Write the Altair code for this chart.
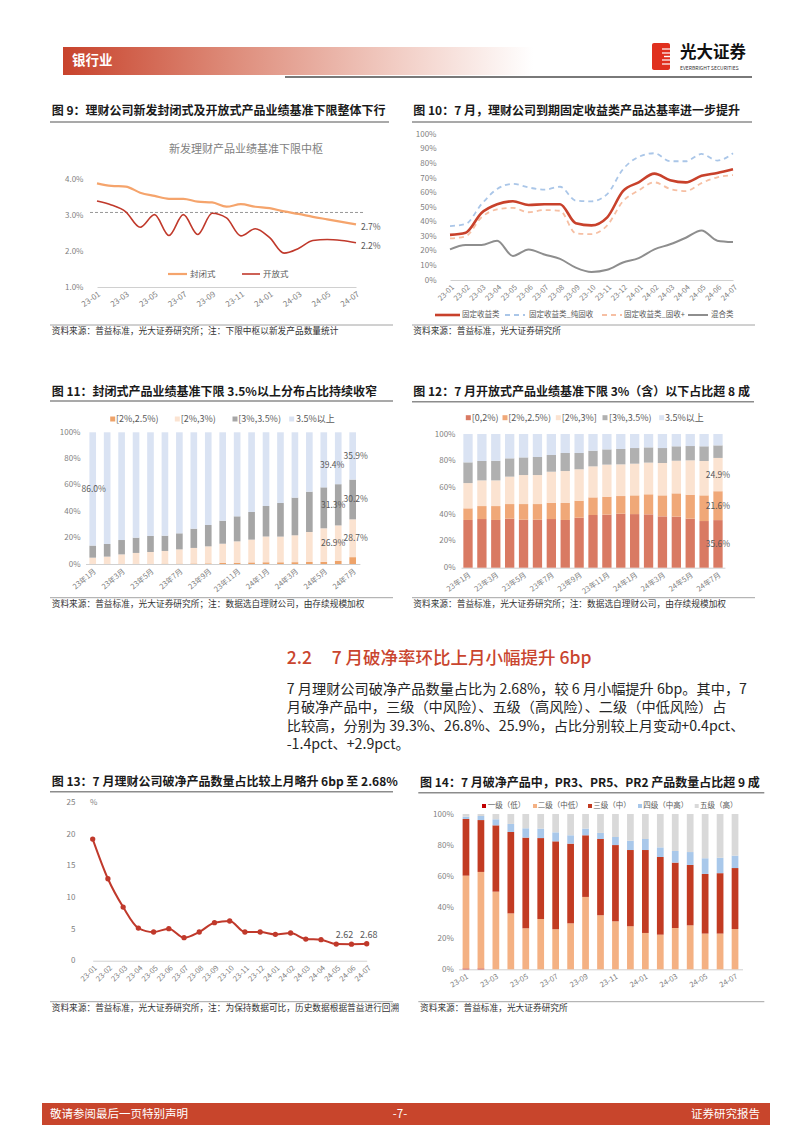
import altair as alt
import pandas as pd

FONT = "Noto Sans CJK SC"
LBL = "#7f7f7f"
DARK = "#1a1a1a"

# ---------------- data ----------------
months = ["23-01", "23-02", "23-03", "23-04", "23-05", "23-06", "23-07", "23-08", "23-09", "23-10",
          "23-11", "23-12", "24-01", "24-02", "24-03", "24-04", "24-05", "24-06", "24-07"]
months_cn = ["23年1月", "23年2月", "23年3月", "23年4月", "23年5月", "23年6月", "23年7月", "23年8月",
             "23年9月", "23年10月", "23年11月", "23年12月", "24年1月", "24年2月", "24年3月", "24年4月",
             "24年5月", "24年6月", "24年7月"]

# Fig 9
f9_names = ["封闭式", "开放式"]
f9_closed = [3.88, 3.81, 3.79, 3.62, 3.53, 3.45, 3.45, 3.37, 3.35, 3.23, 3.30, 3.23, 3.19, 3.10, 3.03, 2.95, 2.88, 2.81, 2.74]
f9_open = [3.39, 3.28, 3.09, 2.66, 3.01, 2.43, 3.01, 2.46, 3.05, 2.92, 2.42, 2.62, 2.37, 1.94, 2.07, 2.29, 2.32, 2.29, 2.23]
f9_center = [3.07]
f9_end_labels = ["2.7%", "2.2%"]
f9_y_ticks = [1, 2, 3, 4]

# Fig 10
f10_names = ["固定收益类", "固定收益类_纯固收", "固定收益类_固收+", "混合类"]
f10_fixed = [31, 32.5, 46, 52, 54, 51.5, 52, 52, 39, 37.5, 43, 61, 67, 73, 68.5, 67, 71.5, 73.5, 76]
f10_pure = [37, 38.5, 52, 62.5, 66, 63.5, 62, 64, 54.5, 54, 59, 76, 84.5, 87, 81.5, 81.5, 86.5, 82, 87]
f10_plus = [28.5, 30, 43, 48.5, 49.5, 46.5, 48, 47.5, 32, 31.5, 37.5, 54, 61.5, 67, 62.5, 61, 66.5, 70.5, 72]
f10_mixed = [21, 24, 24, 27, 16.5, 21, 17.5, 14.5, 8.5, 5.5, 7, 12, 15, 21, 24.5, 29, 34, 27, 26]

# Fig 11 (segments, bottom to top)
f11_names = ["[2%,2.5%)", "[2%,3%)", "[3%,3.5%)", "3.5%以上"]
f11_a = [0.2, 0.2, 0.2, 0.2, 0.2, 0.3, 0.3, 0.4, 0.5, 0.8, 1.0, 1.2, 1.3, 1.3, 1.4, 1.5, 1.6, 2.4, 5.2]
f11_b = [4.6, 5.4, 7.1, 8.2, 8.9, 9.6, 10.8, 11.8, 12.9, 14.6, 16.2, 17.3, 19.5, 19.5, 20.4, 22.8, 25.5, 26.9, 28.7]
f11_c = [9.2, 9.6, 10.9, 11.6, 12.2, 11.6, 12.2, 14.6, 16.2, 17.5, 19.0, 21.0, 23.2, 25.5, 28.6, 30.6, 31.1, 31.3, 30.2]
f11_d = [86.0, 84.8, 81.8, 80.0, 78.7, 78.5, 76.7, 73.2, 70.4, 67.1, 63.8, 60.5, 56.0, 53.7, 49.6, 45.1, 41.8, 39.4, 35.9]

# Fig 12 (segments, bottom to top)
f12_names = ["[0,2%)", "[2%,2.5%)", "[2%,3%]", "[3%,3.5%)", "3.5%以上"]
f12_a = [35.7, 36.4, 35.7, 36.7, 35.9, 35.9, 36.4, 35.7, 37.4, 39.4, 39.7, 40.4, 40.1, 39.9, 38.4, 38.2, 36.7, 34.9, 35.6]
f12_b = [8.7, 9.7, 10.4, 10.9, 11.7, 11.7, 12.2, 12.7, 12.7, 13.2, 13.4, 13.2, 14.0, 15.0, 15.7, 17.4, 17.9, 19.2, 21.6]
f12_c = [18.9, 19.2, 19.2, 20.5, 21.7, 21.7, 23.2, 23.9, 23.5, 23.2, 24.0, 23.7, 23.7, 23.7, 24.2, 24.4, 25.7, 25.7, 24.9]
f12_d = [15.5, 14.5, 14.7, 13.7, 13.2, 13.5, 12.5, 13.5, 12.2, 11.7, 11.4, 11.5, 11.7, 11.4, 11.2, 10.8, 10.7, 11.0, 9.4]
f12_e = [21.2, 20.2, 20.0, 18.2, 17.5, 17.2, 15.7, 14.2, 14.2, 12.5, 11.5, 11.2, 10.5, 10.0, 10.5, 9.2, 9.0, 9.2, 8.5]

# Fig 13
f13_rate = [19.25, 12.97, 8.49, 5.17, 4.54, 5.06, 3.64, 4.54, 6.01, 6.28, 4.54, 4.54, 4.17, 4.38, 3.43, 3.32, 2.63, 2.62, 2.68]
f13_y_ticks = [0, 5, 10, 15, 20, 25]

# Fig 14 (segments, bottom to top)
f14_names = ["一级（低）", "二级（中低）", "三级（中）", "四级（中高）", "五级（高）"]
f14_l1 = [0.5, 0.5, 0, 0, 0, 0, 0, 0, 0, 0, 0, 0, 0, 0, 0, 0, 0, 0, 0]
f14_l2 = [59.8, 62.2, 50.0, 36.0, 26.4, 32.4, 25.8, 29.6, 46.6, 34.8, 30.9, 27.7, 23.4, 22.3, 26.6, 28.3, 23.0, 23.0, 25.9]
f14_l3 = [36.5, 33.4, 42.7, 52.4, 58.4, 52.1, 56.6, 51.3, 39.7, 49.1, 49.1, 49.1, 53.4, 50.0, 42.1, 38.9, 38.4, 38.9, 39.3]
f14_l4 = [1.5, 2.6, 3.9, 5.2, 6.0, 6.1, 5.8, 5.4, 4.3, 3.9, 5.2, 6.0, 7.1, 6.2, 7.5, 8.3, 10.1, 9.9, 8.0]
f14_l5 = [1.7, 1.3, 3.4, 6.4, 9.2, 9.4, 11.8, 13.7, 9.4, 12.2, 14.8, 17.2, 16.1, 21.5, 23.8, 24.5, 28.5, 28.2, 26.8]

pct_ticks = [0, 10, 20, 30, 40, 50, 60, 70, 80, 90, 100]
pct_ticks20 = [0, 20, 40, 60, 80, 100]

# ---------------- helpers ----------------
ONE = pd.DataFrame({"k": [0]})


def text(s, x, y, size=9.0, color="#262626", align="left", weight="normal", baseline="middle"):
    return alt.Chart(ONE).mark_text(
        text=s, align=align, baseline=baseline, fontSize=size, color=color,
        fontWeight=weight, font=FONT
    ).encode(x=alt.value(x), y=alt.value(y))


def hrule(x1, x2, y, color="#7f7f7f", width=1.0, dash=None):
    kw = dict(color=color, strokeWidth=width)
    if dash:
        kw["strokeDash"] = dash
    return alt.Chart(ONE).mark_rule(**kw).encode(x=alt.value(x1), x2=alt.value(x2), y=alt.value(y))


def box(x1, x2, y1, y2, color, **kw):
    return alt.Chart(ONE).mark_rect(color=color, **kw).encode(
        x=alt.value(x1), x2=alt.value(x2), y=alt.value(y1), y2=alt.value(y2))


def yaxis(offset, values, expr, pad=2):
    return alt.Axis(orient="left", offset=offset, values=values, labelExpr=expr, domain=False,
                    ticks=False, grid=False, labelPadding=pad, labelFontSize=8, labelColor=LBL,
                    title=None, labelFont=FONT)


def xaxis(offset, values, angle, size=7.5, pad=3):
    return alt.Axis(orient="bottom", offset=offset, values=values, labelAngle=angle, domain=True,
                    domainColor="#d0d0d0", domainWidth=1, ticks=False, grid=False,
                    labelPadding=pad, labelFontSize=size, labelColor=LBL, title=None,
                    labelFont=FONT, labelOverlap=False)


def leg_line(x1, x2, y, color, label, tx, width=2.0, dash=None, size=8):
    return [hrule(x1, x2, y, color=color, width=width, dash=dash), text(label, tx, y, size=size, color="#595959")]


def leg_sq(x, y, color, label, tx, size=8.5, s=5):
    return [box(x - s / 2, x + s / 2, y - s / 2, y + s / 2, color), text(label, tx, y, size=size, color="#595959")]


def fig_head(title, x, y, ux1, ux2, uy):
    return [text(title, x, y, size=12, color=DARK, weight="bold"), hrule(ux1, ux2, uy, color="#8c8c8c", width=1.5)]


def fig_source(s, x, y, ux1, ux2, uy):
    return [hrule(ux1, ux2, uy, color="#8c8c8c", width=0.8), text(s, x, y, size=8.7, color="#333333")]


def stack_df(cats, names, segs):
    rows = []
    for k, (name, seg) in enumerate(zip(names, segs)):
        for i, c in enumerate(cats):
            lo = sum(segs[j][i] for j in range(k))
            rows.append({"m": c, "s": name, "v": seg[i], "o": k, "mid": lo + seg[i] / 2})
    return pd.DataFrame(rows)


def empty(w, h):
    return alt.Chart(ONE).mark_text(text=" ").encode(x=alt.value(0), y=alt.value(0)).properties(width=w, height=h)


WL, WR = 403, 360

# ---------------- header ----------------
grad = alt.LinearGradient(
    gradient="linear",
    stops=[alt.GradientStop(color="#c8432c", offset=0), alt.GradientStop(color="#dd8a78", offset=0.35),
           alt.GradientStop(color="#f1cbc2", offset=0.7), alt.GradientStop(color="#ffffff", offset=1)],
    x1=0, x2=1, y1=0, y2=0)
header_left = alt.layer(
    alt.Chart(ONE).mark_rect(fill=grad).encode(x=alt.value(55), x2=alt.value(525), y=alt.value(39), y2=alt.value(67)),
    text("银行业", 64, 53, size=13.5, color="white", weight="bold"),
    hrule(277, 744, 69, color="#4d4d4d", width=1.6),
).properties(width=WL, height=82)

header_right = alt.layer(
    box(241, 259, 35, 62, "#e0301e", cornerRadius=2),
    hrule(251, 259, 41, color="white", width=1.2),
    hrule(251, 259, 45, color="white", width=1.2),
    hrule(253, 259, 48.5, color="white", width=1.4),
    hrule(251, 259, 52, color="white", width=1.2),
    hrule(251, 259, 56, color="white", width=1.2),
    text("光大证券", 269, 45, size=16.5, color="#111111", weight="bold"),
    text("EVERBRIGHT SECURITIES", 269, 60, size=5, color="#333333"),
).properties(width=WR, height=82)

# ---------------- Fig 9 ----------------
df9a = pd.DataFrame({"m": months, "v": f9_closed})
df9b = pd.DataFrame({"m": months, "v": f9_open})
X9 = alt.X("m:N", sort=months, scale=alt.Scale(type="point", range=[89, 348], padding=0),
           axis=xaxis(-58, months[::2], -35, size=8))
Y9 = alt.Y("v:Q", scale=alt.Scale(domain=[1, 4], range=[197, 89], nice=False, zero=False),
           axis=yaxis(-77, f9_y_ticks, "format(datum.value, '.1f') + '%'"))
df9_end = pd.DataFrame({"m": [months[-1], months[-1]], "v": [f9_closed[-1], f9_open[-1]], "t": f9_end_labels})
fig9 = alt.layer(
    *fig_head("图 9：理财公司新发封闭式及开放式产品业绩基准下限整体下行", 43.7, 21, 42, 381, 32),
    text("新发理财产品业绩基准下限中枢", 238, 60, size=11, color="#7f7f7f", align="center"),
    alt.Chart(pd.DataFrame({"v": f9_center})).mark_rule(color="#8c8c8c", strokeWidth=0.9, strokeDash=[3, 2]).encode(
        y=Y9, x=alt.value(82), x2=alt.value(357)),
    alt.Chart(df9a).mark_line(color="#f5a46c", strokeWidth=2.2, interpolate="monotone").encode(x=X9, y=Y9),
    alt.Chart(df9b).mark_line(color="#c0392b", strokeWidth=1.6, interpolate="monotone").encode(x=X9, y=Y9),
    alt.Chart(df9_end).mark_text(align="left", dx=5, dy=3, fontSize=8.5, color="#595959", font=FONT).encode(
        x=X9, y=Y9, text="t:N"),
    *leg_line(160, 179, 184, "#f5a46c", f9_names[0], 182, width=2.2, size=8.5),
    *leg_line(234, 252, 184, "#c0392b", f9_names[1], 255, width=1.6, size=8.5),
    *fig_source("资料来源：普益标准，光大证券研究所；注：下限中枢以新发产品数量统计", 43.7, 241, 42, 385, 235),
).properties(width=WL, height=255)

# ---------------- Fig 10 ----------------
X10 = alt.X("m:N", sort=months, scale=alt.Scale(type="point", range=[39, 322], padding=0),
            axis=xaxis(-65, months, -45, size=7.5))
Y10 = alt.Y("v:Q", scale=alt.Scale(domain=[0, 100], range=[190, 44.3], nice=False),
            axis=yaxis(-27, pct_ticks, "datum.value + '%'"))
c10 = ["#c8412b", "#aac6e8", "#f6bfa3", "#8e8e8e"]
fig10 = alt.layer(
    *fig_head("图 10：7 月，理财公司到期固定收益类产品达基率进一步提升", 2.3, 21, 1, 341, 32),
    alt.Chart(pd.DataFrame({"m": months, "v": f10_mixed})).mark_line(color=c10[3], strokeWidth=2, interpolate="monotone").encode(x=X10, y=Y10),
    alt.Chart(pd.DataFrame({"m": months, "v": f10_plus})).mark_line(color=c10[2], strokeWidth=1.8, strokeDash=[5, 4], interpolate="monotone").encode(x=X10, y=Y10),
    alt.Chart(pd.DataFrame({"m": months, "v": f10_pure})).mark_line(color=c10[1], strokeWidth=1.8, strokeDash=[5, 4], interpolate="monotone").encode(x=X10, y=Y10),
    alt.Chart(pd.DataFrame({"m": months, "v": f10_fixed})).mark_line(color=c10[0], strokeWidth=2.6, interpolate="monotone").encode(x=X10, y=Y10),
    *leg_line(24, 49, 225, c10[0], f10_names[0], 51, width=2.6, size=7.5),
    *leg_line(94, 114, 225, c10[1], f10_names[1], 118, width=1.8, dash=[5, 4], size=7.5),
    *leg_line(191, 211, 225, c10[2], f10_names[2], 213, width=1.8, dash=[5, 4], size=7.5),
    *leg_line(277, 297, 225, c10[3], f10_names[3], 300, width=2, size=7.5),
    *fig_source("资料来源：普益标准，光大证券研究所", 2.3, 241, 1, 344, 235),
).properties(width=WR, height=255)

# ---------------- Fig 11 ----------------
c11 = ["#eea36a", "#fbe3d1", "#a6a6a6", "#dae3f3"]
df11 = stack_df(months_cn, f11_names, [f11_a, f11_b, f11_c, f11_d])
X11 = alt.X("m:N", sort=months_cn, scale=alt.Scale(range=[77.5, 351.9], paddingInner=0.54, paddingOuter=0.27),
            axis=xaxis(-61, months_cn[::2], -40, size=7.5))
Y11s = alt.Scale(domain=[0, 100], range=[219, 87.3], nice=False)
fmt = lambda d: d.v.map(lambda x: f"{x:.1f}%")
lab11_a = df11[(df11.m == months_cn[0]) & (df11.s == f11_names[3])].assign(t=fmt)
lab11_b1 = df11[(df11.m == months_cn[17]) & (df11.o == 3)].assign(t=fmt)
lab11_b2 = df11[(df11.m == months_cn[17]) & (df11.o.isin([1, 2]))].assign(t=fmt)
lab11_c = df11[(df11.m == months_cn[18]) & (df11.o >= 1)].assign(t=fmt)
fig11 = alt.layer(
    *fig_head("图 11：封闭式产品业绩基准下限 3.5%以上分布占比持续收窄", 43.7, 46.7, 42, 385, 56),
    *leg_sq(104.7, 74, c11[0], f11_names[0], 108, size=9),
    *leg_sq(169.3, 74, c11[1], f11_names[1], 172.7, size=9),
    *leg_sq(227, 74, c11[2], f11_names[2], 230.3, size=9),
    *leg_sq(283.7, 74, c11[3], f11_names[3], 288, size=9),
    alt.Chart(df11).mark_bar().encode(
        x=X11,
        y=alt.Y("v:Q", stack="zero", scale=Y11s, axis=yaxis(-74, pct_ticks20, "datum.value + '%'")),
        color=alt.Color("s:N", scale=alt.Scale(domain=f11_names, range=c11), legend=None),
        order=alt.Order("o:Q", sort="ascending")),
    alt.Chart(lab11_a).mark_text(fontSize=8.5, color="#595959", font=FONT, dx=1).encode(
        x=X11, y=alt.Y("mid:Q", scale=Y11s), text="t:N"),
    alt.Chart(lab11_b1).mark_text(fontSize=8.5, color="#595959", font=FONT, dx=-6, dy=7).encode(
        x=X11, y=alt.Y("mid:Q", scale=Y11s), text="t:N"),
    alt.Chart(lab11_b2).mark_text(fontSize=8.5, color="#595959", font=FONT, dx=-5).encode(
        x=X11, y=alt.Y("mid:Q", scale=Y11s), text="t:N"),
    alt.Chart(lab11_c).mark_text(fontSize=8.5, color="#595959", font=FONT, dx=3).encode(
        x=X11, y=alt.Y("mid:Q", scale=Y11s), text="t:N"),
    *fig_source("资料来源：普益标准，光大证券研究所；注：数据选自理财公司，由存续规模加权", 43.7, 259.3, 42, 385, 252.7),
).properties(width=WL, height=280)

# ---------------- Fig 12 ----------------
c12 = ["#d97a63", "#f0a878", "#fbe3d1", "#b0b0b0", "#dae3f3"]
df12 = stack_df(months_cn, f12_names, [f12_a, f12_b, f12_c, f12_d, f12_e])
X12 = alt.X("m:N", sort=months_cn, scale=alt.Scale(range=[50.06, 313.94], paddingInner=0.33, paddingOuter=0.165),
            axis=xaxis(-57.3, months_cn[::2], -35, size=7.5))
Y12s = alt.Scale(domain=[0, 100], range=[222.7, 89], nice=False)
lab12 = df12[(df12.m == months_cn[18]) & (df12.o <= 2)].assign(t=fmt)
fig12 = alt.layer(
    *fig_head("图 12：7 月开放式产品业绩基准下限 3%（含）以下占比超 8 成", 2.3, 46.7, 1, 343, 56.7),
    *leg_sq(57.3, 72.7, c12[0], f12_names[0], 60.7, size=9),
    *leg_sq(94, 72.7, c12[1], f12_names[1], 97.3, size=9),
    *leg_sq(147.3, 72.7, c12[2], f12_names[2], 150.7, size=9),
    *leg_sq(194, 72.7, c12[3], f12_names[3], 198, size=9),
    *leg_sq(250.7, 72.7, c12[4], f12_names[4], 254, size=9),
    alt.Chart(df12).mark_bar().encode(
        x=X12,
        y=alt.Y("v:Q", stack="zero", scale=Y12s, axis=yaxis(-46, pct_ticks20, "datum.value + '%'")),
        color=alt.Color("s:N", scale=alt.Scale(domain=f12_names, range=c12), legend=None),
        order=alt.Order("o:Q", sort="ascending")),
    alt.Chart(lab12).mark_text(fontSize=8.5, color="#595959", font=FONT).encode(
        x=X12, y=alt.Y("mid:Q", scale=Y12s), text="t:N"),
    *fig_source("资料来源：普益标准，光大证券研究所；注：数据选自理财公司，由存续规模加权", 2.3, 259.3, 1, 344, 252.7),
).properties(width=WR, height=280)

# ---------------- Section text ----------------
para = [
    "7 月理财公司破净产品数量占比为 2.68%，较 6 月小幅提升 6bp。其中，7",
    "月破净产品中，三级（中风险）、五级（高风险）、二级（中低风险）占",
    "比较高，分别为 39.3%、26.8%、25.9%，占比分别较上月变动+0.4pct、",
    "-1.4pct、+2.9pct。",
]
section = alt.layer(
    text("2.2", 278.7, 34.3, size=17.5, color="#c9452e", weight=500),
    text("7 月破净率环比上月小幅提升 6bp", 323.7, 34.3, size=17.5, color="#c9452e", weight=500),
    *[text(p, 278.7, 65 + 18.35 * i, size=14.2, color="#262626") for i, p in enumerate(para)],
).properties(width=WL, height=135)

# ---------------- Fig 13 ----------------
df13 = pd.DataFrame({"m": months, "v": f13_rate})
X13 = alt.X("m:N", sort=months, scale=alt.Scale(type="point", range=[84.7, 358.7], padding=0),
            axis=xaxis(-59.3, months, -45, size=7.5))
Y13 = alt.Y("v:Q", scale=alt.Scale(domain=[0, 25], range=[200.7, 42.7], nice=False),
            axis=yaxis(-69, f13_y_ticks, "datum.value"))
fmt2 = lambda d: d.v.map(lambda x: f"{x:.2f}")
lab13a = df13.iloc[[17]].assign(t=fmt2)
lab13b = df13.iloc[[18]].assign(t=fmt2)
fig13 = alt.layer(
    *fig_head("图 13：7 月理财公司破净产品数量占比较上月略升 6bp 至 2.68%", 43.7, 21.7, 42, 385, 31.7),
    text("%", 82, 42.7, size=8, color=LBL),
    alt.Chart(df13).mark_line(color="#c0392b", strokeWidth=2, interpolate="monotone").encode(x=X13, y=Y13),
    alt.Chart(df13).mark_circle(color="#c0392b", size=28, opacity=1).encode(x=X13, y=Y13),
    alt.Chart(lab13a).mark_text(fontSize=9, color="#595959", font=FONT, baseline="bottom", dy=-4, dx=-7).encode(
        x=X13, y=Y13, text="t:N"),
    alt.Chart(lab13b).mark_text(fontSize=9, color="#595959", font=FONT, baseline="bottom", dy=-4, dx=2).encode(
        x=X13, y=Y13, text="t:N"),
    *fig_source("资料来源：普益标准，光大证券研究所，注：为保持数据可比，历史数据根据普益进行回溯", 43.7, 248.3, 42, 385, 241.7),
).properties(width=WL, height=260)

# ---------------- Fig 14 ----------------
c14 = ["#c00000", "#f4b183", "#c23b22", "#a9c8ea", "#d9d9d9"]
df14 = stack_df(months, f14_names, [f14_l1, f14_l2, f14_l3, f14_l4, f14_l5])
X14 = alt.X("m:N", sort=months, scale=alt.Scale(range=[47.5, 331.5], paddingInner=0.55, paddingOuter=0.275),
            axis=xaxis(-50.7, months[::2], -30, size=7.5))
fig14 = alt.layer(
    *fig_head("图 14：7 月破净产品中，PR3、PR5、PR2 产品数量占比超 9 成", 9, 22.7, 7.3, 353.3, 32.7),
    *leg_sq(73, 46, c14[0], f14_names[0], 76.7, size=7.5, s=4),
    *leg_sq(124, 46, c14[1], f14_names[1], 126.7, size=7.5, s=4),
    *leg_sq(179, 46, c14[2], f14_names[2], 182.3, size=7.5, s=4),
    *leg_sq(229, 46, c14[3], f14_names[3], 232.3, size=7.5, s=4),
    *leg_sq(285.7, 46, c14[4], f14_names[4], 289, size=7.5, s=4),
    alt.Chart(df14).mark_bar().encode(
        x=X14,
        y=alt.Y("v:Q", stack="zero", scale=alt.Scale(domain=[0, 100], range=[209.3, 54], nice=False),
                axis=yaxis(-44.3, pct_ticks20, "datum.value + '%'")),
        color=alt.Color("s:N", scale=alt.Scale(domain=f14_names, range=c14), legend=None),
        order=alt.Order("o:Q", sort="ascending")),
    *fig_source("资料来源：普益标准，光大证券研究所", 9, 248.3, 7.3, 353.3, 241.7),
).properties(width=WR, height=260)

# ---------------- footer ----------------
footer = alt.layer(
    box(34, 762, 83, 105, "#c8452c"),
    text("敬请参阅最后一页特别声明", 42, 94.5, size=11.5, color="white"),
    text("-7-", 392, 94.5, size=11.5, color="white", align="center"),
    text("证券研究报告", 752, 94.5, size=11.5, color="white", align="right"),
).properties(width=WL, height=105)

chart = alt.concat(
    header_left, header_right,
    fig9, fig10,
    fig11, fig12,
    section, empty(WR, 135),
    fig13, fig14,
    footer, empty(WR, 105),
    columns=2, spacing=0, bounds="flush", align="each",
).resolve_scale(color="independent").properties(padding=0, background="white").configure(
    font=FONT, view=alt.ViewConfig(stroke=None))

chart.save("out.html", embed_options={"renderer": "svg", "actions": False})
